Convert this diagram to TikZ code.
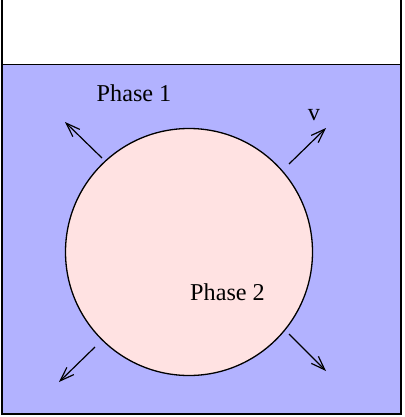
\documentclass[tikz,border=0pt]{standalone}
\usepackage{fontspec}
\setmainfont{Liberation Serif}
\usetikzlibrary{arrows.meta}
\definecolor{phaseone}{RGB}{178,178,255}
\definecolor{phasetwo}{RGB}{255,226,226}
\tikzset{
  wall/.style={line width=1.3pt, line cap=rect},
  vel/.style={line width=1.2pt, -{Straight Barb[length=14pt,width=10pt,line width=1.2pt]}},
  lbl/.style={font=\fontsize{24.2}{28}\selectfont, inner sep=0pt, anchor=base west}
}
\begin{document}
\begin{tikzpicture}[x=1pt,y=-1pt]
\useasboundingbox (0,0) rectangle (404,417);
\fill[phaseone] (2,64.5) rectangle (401,414);
\draw[wall] (2,-2) -- (2,414) -- (401,414) -- (401,-2);
\draw[wall] (2,64.5) -- (401,64.5);
\node[circle, draw, line width=1.3pt, fill=phasetwo, minimum size=247pt, inner sep=0pt] (drop) at (189,252) {};
\node[lbl] (p1) at (96.5,101.5) {Phase 1};
\node[lbl] (p2) at (190,300) {Phase 2};
\node[lbl, anchor=base] (v) at (314,120.5) {v};
\coordinate (a1s) at (102,158); \coordinate (a1e) at (65,122);
\coordinate (a2s) at (289,164); \coordinate (a2e) at (326,128);
\coordinate (a3s) at (95,347);  \coordinate (a3e) at (59,382);
\coordinate (a4s) at (289,334); \coordinate (a4e) at (326,371);
\draw[vel] (a1s) -- (a1e);
\draw[vel] (a2s) -- (a2e);
\draw[vel] (a3s) -- (a3e);
\draw[vel] (a4s) -- (a4e);
\end{tikzpicture}
\end{document}
